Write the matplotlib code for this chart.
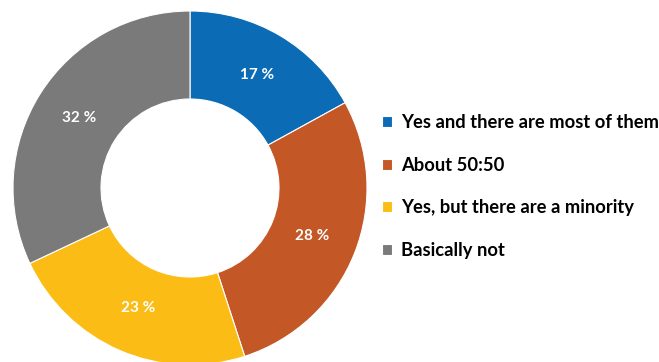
import matplotlib.pyplot as plt

labels = ["Yes and there are most of them", "About 50:50",
          "Yes, but there are a minority", "Basically not"]
shares = [17, 28, 23, 32]
colors = ["#0B6BB5", "#C45726", "#FBBD15", "#7A7A7A"]

plt.rcParams["font.family"] = ["Lato", "DejaVu Sans"]

fig = plt.figure(figsize=(6.59, 3.62), dpi=100)
ax = fig.add_axes([0, 0, 1, 1])

# donut drawn in pixel-like data units so it can sit where the reference puts it
wedges, _, pcts = ax.pie(
    shares, colors=colors, startangle=90, counterclock=False,
    center=(190, 362 - 188), radius=177,
    wedgeprops=dict(width=88, edgecolor="white", linewidth=0.8),
    autopct=lambda p: f"{p:.0f} %", pctdistance=0.74,
    textprops=dict(color="white", fontsize=11, fontweight="bold"),
)
ax.set_xlim(0, 659)
ax.set_ylim(0, 362)
ax.set_aspect("equal")
ax.axis("off")

leg = ax.legend(
    wedges, labels, loc="upper left", bbox_to_anchor=(382 / 659, 1 - 114 / 362),
    frameon=False, prop=dict(size=13.2, weight="bold"),
    handlelength=0.55, handleheight=0.55, handletextpad=0.5,
    labelspacing=1.4, borderpad=0, borderaxespad=0,
)

fig.savefig("out.png", dpi=100)
